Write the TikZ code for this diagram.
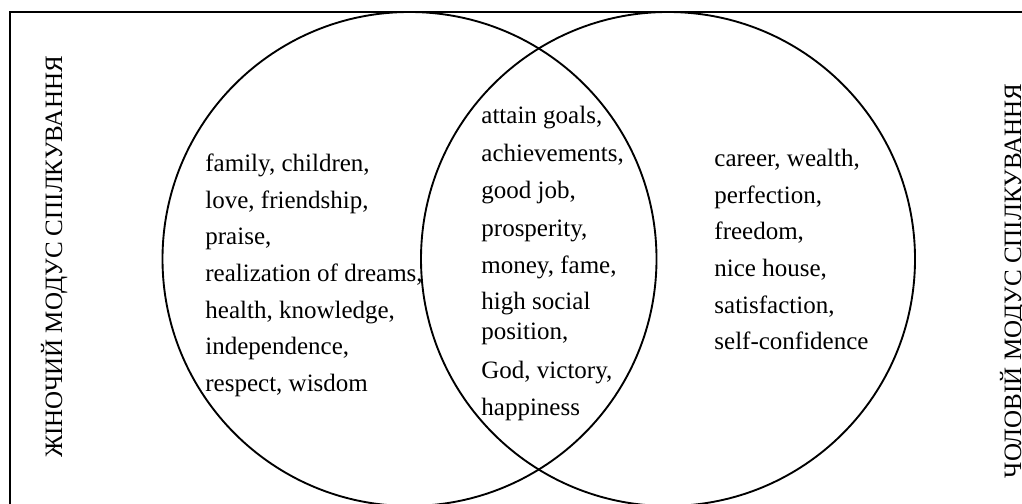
\documentclass[tikz,border=0pt]{standalone}
\usepackage{fontspec}
\setmainfont{Liberation Serif}
\tikzset{
  word/.style={anchor=base west, inner sep=0pt, font=\fontsize{12}{14}\selectfont},
  side/.style={rotate=90, anchor=base, inner sep=0pt, font=\fontsize{12}{14}\selectfont},
  ring/.style={line width=0.9pt}
}
\begin{document}
\begin{tikzpicture}[x=0.48pt,y=-0.48pt]
        \clip (0,0) rectangle (1022,504);
        \draw[ring] (10,12) rectangle (1060,540);
        % the two sets
        \draw[ring] (409.5,259) circle (247);
        \draw[ring] (668,259) circle (247);
        \node[side] (female) at (62,257) {ЖІНОЧИЙ МОДУС СПІЛКУВАННЯ};
        \node[side] (male) at (1021,281) {ЧОЛОВІЙ МОДУС СПІЛКУВАННЯ};
        % left part
        \foreach \y/\txt [count=\i] in {172/{family, children,}, 209/{love, friendship,},
            245/{praise,}, 282/{realization of dreams,}, 319/{health, knowledge,},
            355/{independence,}, 392/{respect, wisdom}}
            \node[word] (fem-\i) at (205,\y) {\txt};
        % common part
        \foreach \y/\txt [count=\i] in {124/{attain goals,}, 162/{achievements,},
            199/{good job,}, 237/{prosperity,}, 274/{money, fame,}, 310/{high social},
            340/{position,}, 379/{God, victory,}, 415/{happiness}}
            \node[word] (com-\i) at (481,\y) {\txt};
        % right part
        \foreach \y/\txt [count=\i] in {167/{career, wealth,}, 204/{perfection,},
            240/{freedom,}, 277/{nice house,}, 314/{satisfaction,}, 350/{self-confidence}}
            \node[word] (mal-\i) at (714,\y) {\txt};
\end{tikzpicture}
\end{document}
